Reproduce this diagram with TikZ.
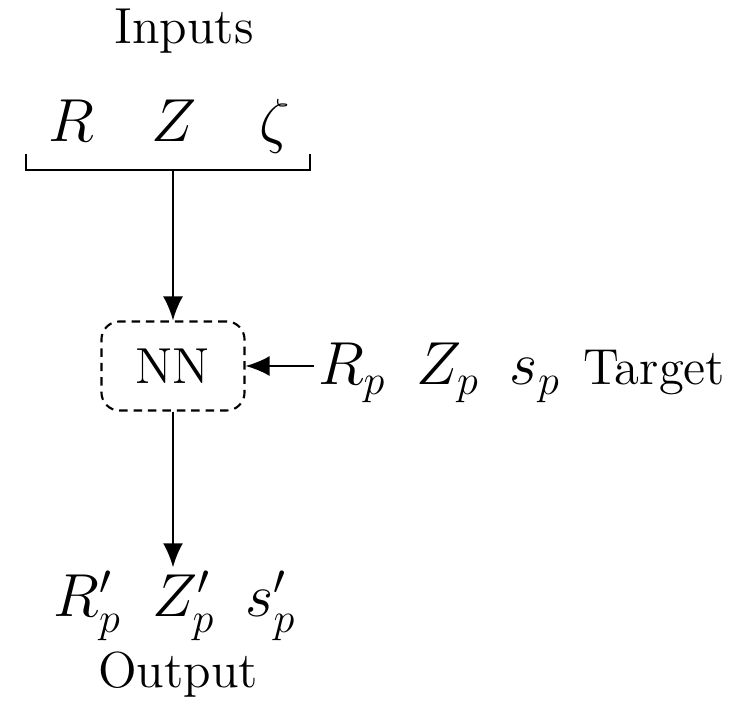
\documentclass[tikz,border=0pt]{standalone}
\usepackage{amsmath}
\usetikzlibrary{arrows.meta,positioning}
\tikzset{
  flow/.style={-{Latex[length=2.4mm,width=2mm]},semithick},
  nnbox/.style={draw,semithick,dash pattern=on 2.4pt off 1.7pt,rounded corners=1.8mm,
                minimum width=1.43cm,minimum height=0.89cm,font=\Large},
  sym/.style={font=\LARGE,inner sep=1pt},
  lbl/.style={font=\Large,inner sep=1pt},
}

\begin{document}
\begin{tikzpicture}[x=0.01cm,y=-0.01cm]
  \useasboundingbox (0,0) rectangle (741,704);
  % inputs
  \node[lbl,anchor=base] (inputs) at (184,44) {Inputs};
  \node[sym,anchor=base] (inR) at (71,142) {$R$};
  \node[sym,anchor=base] (inZ) at (174,142) {$Z$};
  \node[sym,anchor=base] (inzeta) at (275,142) {$\zeta$};
  \coordinate (brL) at (26,154);
  \coordinate (brR) at (310,154);
  \coordinate (brM) at (173,170);
  \draw[semithick] (brL) -- ++(0,16) -| (brR);
  % network
  \node[nnbox] (nn) at (173,366) {NN};
  \draw[flow] (brM) -- (nn.north);
  % target
  \node[sym,anchor=base west] (target) at (314,385) {$R_p\enspace Z_p\enspace s_p$};
  \node[lbl,anchor=base west] (tlabel) at (579,385) {Target};
  \draw[flow] (target.west |- nn.east) -- (nn.east);
  % output
  \node[sym,anchor=base] (outp) at (175,617) {$R^{\prime}_p\enspace Z^{\prime}_p\enspace s^{\prime}_p$};
  \node[lbl,anchor=base] (olabel) at (178,688) {Output};
  \draw[flow] (nn.south) -- (nn.south |- outp.north);
\end{tikzpicture}
\end{document}
